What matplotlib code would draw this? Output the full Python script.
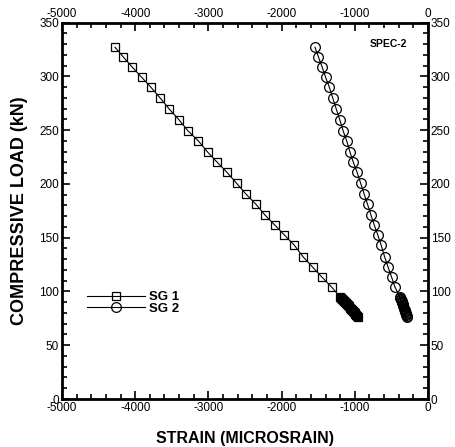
import matplotlib
matplotlib.use("Agg")
import matplotlib.pyplot as plt
from matplotlib.ticker import MultipleLocator

plt.rcParams['font.family'] = ['Liberation Sans', 'DejaVu Sans']
plt.rcParams['axes.unicode_minus'] = False

# Data
load_kN = [327, 318, 308.5, 299, 290, 280, 269.5, 259.5, 249, 240, 229.5, 220,
           211, 200.5, 190.5, 181, 171, 161.5, 152.5, 143, 132, 122.5, 113.5, 104,
           95, 94, 93, 92, 91, 90, 89, 88, 87, 86, 85, 84, 83, 82, 81, 80, 79, 78, 77, 76]
sg1_strain = [-4276, -4163, -4040, -3911, -3788, -3661, -3534, -3402, -3275, -3138,
              -3010, -2879, -2750, -2614, -2487, -2350, -2227, -2090, -1963, -1827,
              -1704, -1575, -1452, -1316,
              -1202, -1190, -1177, -1163, -1150, -1137, -1124, -1110, -1097, -1084,
              -1070, -1057, -1044, -1031, -1017, -1004, -991, -977, -964, -950]
sg2_strain = [-1544, -1497, -1446, -1398, -1349, -1302, -1253, -1205, -1158, -1111,
              -1066, -1020, -970, -920, -872, -826, -779, -733, -686, -640,
              -592, -545, -498, -451,
              -383, -378, -373, -368, -362, -357, -352, -347, -342, -337,
              -331, -326, -321, -316, -311, -306, -300, -295, -290, -285]
series_names = ["SG 1", "SG 2"]
x_limits = [-5000, 0]
y_limits = [0, 350]

fig = plt.figure(figsize=(4.56, 4.47), dpi=100)
ax = fig.add_axes([62/456, 48/447, 366/456, 376.5/447])

ax.plot(sg1_strain, load_kN, color='black', lw=0.8, marker='s', ms=5.5,
        mfc='none', mec='black', mew=0.9, label=series_names[0])
ax.plot(sg2_strain, load_kN, color='black', lw=0.8, marker='o', ms=7,
        mfc='none', mec='black', mew=0.9, label=series_names[1])

ax.set_xlim(x_limits)
ax.set_ylim(y_limits)
ax.xaxis.set_major_locator(MultipleLocator(1000))
ax.xaxis.set_minor_locator(MultipleLocator(200))
ax.yaxis.set_major_locator(MultipleLocator(50))
ax.yaxis.set_minor_locator(MultipleLocator(10))
ax.tick_params(which='both', direction='in', top=True, right=True,
               labeltop=True, labelright=True, labelsize=8.5, width=1.2, pad=2)
ax.tick_params(which='major', length=6)
ax.tick_params(which='minor', length=3.5)
for s in ax.spines.values():
    s.set_linewidth(2)

ax.set_xlabel("STRAIN (MICROSRAIN)", fontsize=11.5, fontweight='bold')
ax.set_ylabel("COMPRESSIVE LOAD (kN)", fontsize=13, fontweight='bold')
ax.xaxis.set_label_coords(0.5, -0.085)
ax.yaxis.set_label_coords(-0.093, 0.5)

ax.text(0.893, 0.943, "SPEC-2", transform=ax.transAxes, fontsize=7.5,
        fontweight='bold', ha='center', va='center')

leg = ax.legend(loc='center left', bbox_to_anchor=(0.035, 0.255), frameon=False,
                handlelength=4.4, handletextpad=0.3, labelspacing=-0.02,
                prop={'weight': 'bold', 'size': 9.5})

fig.savefig("out.png", dpi=100)
